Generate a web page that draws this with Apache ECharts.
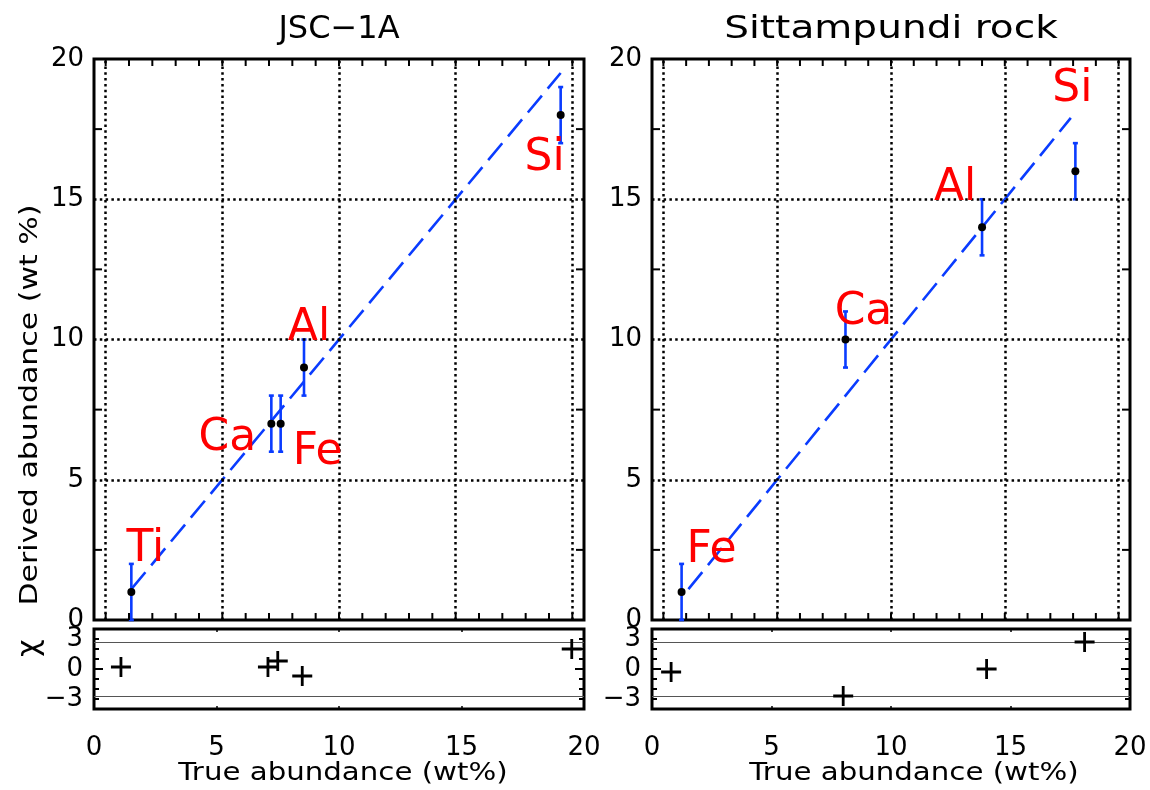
<!DOCTYPE html>
<html>
<head>
<meta charset="utf-8">
<script src="https://cdn.jsdelivr.net/npm/echarts@6/dist/echarts.min.js"></script>
<style>
html,body{margin:0;padding:0;background:#fff;}
#chart{width:1150px;height:790px;}
</style>
</head>
<body>
<div id="chart"></div>
<script>
// ---------- data ----------
const panelTitles = ['JSC\u22121A', 'Sittampundi rock'];

const leftElements = ['Ti', 'Ca', 'Fe', 'Al', 'Si'];
const leftTrue     = [1.1, 7.1, 7.5, 8.5, 19.5];
const leftDerived  = [1, 7, 7, 9, 18];
const leftError    = [1, 1, 1, 1, 1];
const leftChi      = [0.2, 0.2, 0.8, -0.7, 2.0];
const leftFitX     = [1.1, 19.5];
const leftFitY     = [1.1, 19.5];

const rightElements = ['Fe', 'Ca', 'Al', 'Si'];
const rightTrue     = [0.8, 8.0, 14.0, 18.1];
const rightDerived  = [1, 10, 14, 16];
const rightError    = [1, 1, 1, 1];
const rightChi      = [-0.3, -2.7, 0, 2.7];
const rightFitX     = [1.1, 17.9];
const rightFitY     = [1.1, 17.9];

const chiLimits     = [2.7, -2.7];
const gridValues    = [0, 5, 10, 15, 20];
const yMinorTicks   = [2.5, 7.5, 12.5, 17.5];
const xMinorTicks   = [0,1,2,3,4,5,6,7,8,9,10,11,12,13,14,15,16,17,18,19,20];
const chiMajorTicks = [0];
const chiTickLabels = {'3':'3', '0':'0', '-3':'\u22123'};

// ---------- styles ----------
const BLUE = '#0a3cff';
const RED = '#ff0000';
const FONT = 'DejaVu Sans';

// label offsets (pixels relative to the data point)
const leftLabelOffsets  = {Ti:[14,-42], Ca:[-44,15], Fe:[37,29], Al:[5,-39], Si:[-16,43]};
const rightLabelOffsets = {Fe:[30,-41], Ca:[18,-27], Al:[-27,-39], Si:[-3,-82]};

const panels = [
  {els:leftElements, tx:leftTrue, dy:leftDerived, err:leftError, chi:leftChi, fx:leftFitX, fy:leftFitY, offs:leftLabelOffsets,
   main:{left:94, top:59, width:490, height:561}, res:{left:94, top:629, width:490, height:80}},
  {els:rightElements, tx:rightTrue, dy:rightDerived, err:rightError, chi:rightChi, fx:rightFitX, fy:rightFitY, offs:rightLabelOffsets,
   main:{left:652, top:59, width:478, height:561}, res:{left:652, top:629, width:478, height:80}}
];

const X_MIN = -0.5, X_MAX = 20.5, Y_MIN = 0, Y_MAX = 20, C_MIN = -4, C_MAX = 4, R_MIN = 0, R_MAX = 20;

const grids = [], xAxes = [], yAxes = [], series = [];
const plusPath = 'path://M8.6,0H11.4V8.6H20V11.4H11.4V20H8.6V11.4H0V8.6H8.6Z';
const noLine = {show:false, onZero:false};
const tickStyle = {stroke:'#000', lineWidth:2};

// custom series drawing inward tick marks on two opposite edges
function tickSeries(xi, yi, values, dir, len, lo, hi) {
  return {type:'custom', xAxisIndex:xi, yAxisIndex:yi, z:6, silent:true, animation:false, clip:false,
    data: values.map(v => dir === 'x' ? [v, lo] : [lo, v]),
    encode:{x:0, y:1},
    renderItem:(params, api) => {
      const v = dir === 'x' ? api.value(0) : api.value(1);
      const a = api.coord(dir === 'x' ? [v, lo] : [lo, v]);
      const b = api.coord(dir === 'x' ? [v, hi] : [hi, v]);
      if (dir === 'x') {
        return {type:'group', children:[
          {type:'line', shape:{x1:a[0], y1:a[1], x2:a[0], y2:a[1]-len}, style:tickStyle},
          {type:'line', shape:{x1:b[0], y1:b[1], x2:b[0], y2:b[1]+len}, style:tickStyle}]};
      }
      return {type:'group', children:[
        {type:'line', shape:{x1:a[0], y1:a[1], x2:a[0]+len, y2:a[1]}, style:tickStyle},
        {type:'line', shape:{x1:b[0], y1:b[1], x2:b[0]-len, y2:b[1]}, style:tickStyle}]};
    }};
}

panels.forEach((p, pi) => {
  const gMain = grids.length;
  grids.push(Object.assign({show:true, borderColor:'#000', borderWidth:3, backgroundColor:'transparent'}, p.main));
  const gRes = grids.length;
  grids.push(Object.assign({show:true, borderColor:'#000', borderWidth:3, backgroundColor:'transparent'}, p.res));

  const xMain = xAxes.length;
  xAxes.push({type:'value', gridIndex:gMain, min:X_MIN, max:X_MAX,
    axisLine:noLine, splitLine:{show:false}, axisLabel:{show:false}, axisTick:{show:false}});
  const yMain = yAxes.length;
  yAxes.push({type:'value', gridIndex:gMain, min:Y_MIN, max:Y_MAX, interval:5,
    axisLine:noLine, splitLine:{show:false}, axisTick:{show:false},
    axisLabel:{color:'#000', fontFamily:FONT, fontSize:26, margin:10}});

  const xRes = xAxes.length;
  ['bottom','top'].forEach(pos => {
    xAxes.push({type:'value', gridIndex:gRes, position:pos, min:R_MIN, max:R_MAX, interval:5,
      axisLine:noLine, splitLine:{show:false},
      axisLabel:{show:pos==='bottom', color:'#000', fontFamily:FONT, fontSize:26, margin:26},
      axisTick:{show:true, inside:true, length:3, lineStyle:{color:'#000', width:1.5}}});
  });
  const yRes = yAxes.length;
  ['left','right'].forEach(pos => {
    yAxes.push({type:'value', gridIndex:gRes, position:pos, min:C_MIN, max:C_MAX, interval:1,
      axisLine:noLine, splitLine:{show:false},
      axisLabel:{show:pos==='left', color:'#000', fontFamily:FONT, fontSize:26, margin:11,
        formatter: v => (chiTickLabels[String(v)] !== undefined ? chiTickLabels[String(v)] : '')},
      axisTick:{show:true, inside:true, length:5, lineStyle:{color:'#000', width:2}}});
  });

  // gridlines (dotted) on main
  const gl = [];
  gridValues.forEach(v => gl.push({xAxis:v}));
  gridValues.filter(v => v > Y_MIN && v < Y_MAX).forEach(v => gl.push({yAxis:v}));
  series.push({type:'line', xAxisIndex:xMain, yAxisIndex:yMain, data:[], silent:true, z:1,
    markLine:{silent:true, symbol:'none', label:{show:false}, animation:false,
      lineStyle:{color:'#000', width:2.5, type:[2.5,3.3]}, data:gl}});

  // tick marks on main box
  series.push(tickSeries(xMain, yMain, xMinorTicks, 'x', 7, Y_MIN, Y_MAX));
  series.push(tickSeries(xMain, yMain, yMinorTicks, 'y', 8, X_MIN, X_MAX));
  // long zero tick on residual box
  series.push(tickSeries(xRes, yRes, chiMajorTicks, 'y', 9, R_MIN, R_MAX));

  // fit line
  series.push({type:'line', xAxisIndex:xMain, yAxisIndex:yMain, z:3, symbol:'none', animation:false,
    data:p.fx.map((x,i) => [x, p.fy[i]]),
    lineStyle:{color:BLUE, width:2.6, type:[22,9]}});

  // error bars
  series.push({type:'custom', xAxisIndex:xMain, yAxisIndex:yMain, z:4, animation:false,
    data:p.tx.map((x,i) => [x, p.dy[i]-p.err[i], p.dy[i]+p.err[i]]),
    encode:{x:0, y:[1,2]},
    renderItem:(params, api) => {
      const x = api.value(0), lo = api.coord([x, api.value(1)]), hi = api.coord([x, api.value(2)]);
      const w = 2.5, st = {stroke:BLUE, lineWidth:2.6};
      return {type:'group', children:[
        {type:'line', shape:{x1:lo[0], y1:lo[1], x2:hi[0], y2:hi[1]}, style:st},
        {type:'line', shape:{x1:lo[0]-w, y1:lo[1], x2:lo[0]+w, y2:lo[1]}, style:st},
        {type:'line', shape:{x1:hi[0]-w, y1:hi[1], x2:hi[0]+w, y2:hi[1]}, style:st}
      ]};
    }});

  // points with element labels
  series.push({type:'scatter', xAxisIndex:xMain, yAxisIndex:yMain, z:5, animation:false,
    symbol:'circle', symbolSize:8, itemStyle:{color:'#000', opacity:1},
    data:p.tx.map((x,i) => ({value:[x, p.dy[i]], name:p.els[i],
      label:{show:true, position:'inside', formatter:p.els[i], offset:p.offs[p.els[i]],
        color:RED, fontFamily:FONT, fontSize:44}}))});

  // residual limit lines
  series.push({type:'line', xAxisIndex:xRes, yAxisIndex:yRes, data:[], silent:true, z:1,
    markLine:{silent:true, symbol:'none', label:{show:false}, animation:false,
      lineStyle:{color:'#555', width:1.2, type:'solid'}, data:chiLimits.map(v => ({yAxis:v}))}});

  // residual points
  series.push({type:'scatter', xAxisIndex:xRes, yAxisIndex:yRes, z:5, animation:false,
    symbol:plusPath, symbolSize:20, itemStyle:{color:'#000', opacity:1},
    data:p.tx.map((x,i) => [x, p.chi[i]])});
});

const txt = (text, x, y, size, extra) => Object.assign({type:'text', x:x, y:y, z:10,
  style:{text:text, fill:'#000', font:size + 'px "' + FONT + '"', textAlign:'center', textVerticalAlign:'middle'}}, extra || {});

const graphic = [
  txt(panelTitles[0], 339, 30, 32, {scaleX:1.0}),
  txt(panelTitles[1], 891, 30, 32, {scaleX:1.22}),
  txt('Derived abundance (wt %)', 30, 405, 25, {rotation:Math.PI/2, scaleX:1.2}),
  txt('\u03C7', 30, 648, 30, {rotation:Math.PI/2}),
  txt('True abundance (wt%)', 343, 773, 25, {scaleX:1.17}),
  txt('True abundance (wt%)', 914, 773, 25, {scaleX:1.17})
];

const chart = echarts.init(document.getElementById('chart'), null, {renderer:'canvas'});
chart.setOption({animation:false, backgroundColor:'#fff', grid:grids, xAxis:xAxes, yAxis:yAxes, series:series, graphic:graphic});
</script>
</body>
</html>
